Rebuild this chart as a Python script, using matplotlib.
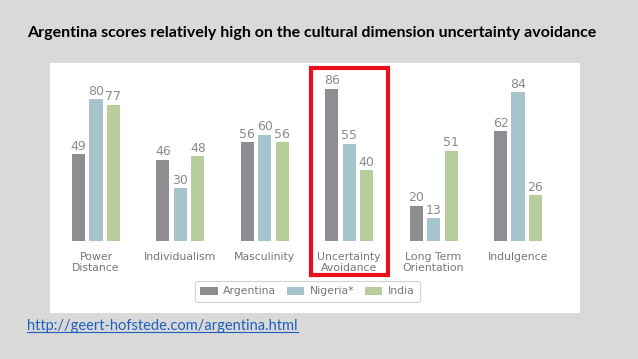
import matplotlib
matplotlib.use("Agg")
import matplotlib.pyplot as plt
from matplotlib.patches import Rectangle, Patch
from matplotlib.lines import Line2D
import numpy as np

# Hofstede scores
dimensions = ["Power\nDistance", "Individualism", "Masculinity",
              "Uncertainty\nAvoidance", "Long Term\nOrientation", "Indulgence"]
argentina = [49, 46, 56, 86, 20, 62]
nigeria = [80, 30, 60, 55, 13, 84]
india = [77, 48, 56, 40, 51, 26]
countries = ["Argentina", "Nigeria*", "India"]
colors = ["#8e8d92", "#a6c4cc", "#b7cd9c"]

fig = plt.figure(figsize=(6.38, 3.59), dpi=100)
fig.patch.set_facecolor("#d9d9d9")

W, H = 638, 359
# white panel with the chart
ax = fig.add_axes([50 / W, 46 / H, 530 / W, 250 / H])
ax.set_facecolor("white")
for s in ax.spines.values():
    s.set_visible(False)
ax.set_xticks([])
ax.set_yticks([])
ax.set_xlim(-0.545, 5.735)
ax.set_ylim(-40.7, 100.6)

x = np.arange(len(dimensions))
off = 0.207
bw = 0.155
for k, (vals, c) in enumerate(zip([argentina, nigeria, india], colors)):
    xs = x + (k - 1) * off
    bars = ax.bar(xs, vals, width=bw, color=c, label=countries[k])
    for xi, v in zip(xs, vals):
        ax.annotate(str(v), (xi, v), xytext=(0, 1), textcoords="offset points",
                    ha="center", va="bottom", fontsize=9, color="#8a8a8a",
                    family="DejaVu Sans")

for xi, lab in zip(x, dimensions):
    ax.text(xi, -6.0, lab, ha="center", va="top", fontsize=7.8,
            color="#777777", linespacing=1.2, family="DejaVu Sans")

# highlight box around uncertainty avoidance
ax.add_patch(Rectangle((3 - 0.455, -19.2), 0.91, 116.9, fill=False,
                       edgecolor="#e8101a", linewidth=3, clip_on=False, zorder=5))

handles = [Patch(facecolor=c, edgecolor="none") for c in colors]
leg = ax.legend(handles, countries, ncol=3, loc="center",
                bbox_to_anchor=(307.5 / W, 1 - 291.5 / H),
                bbox_transform=fig.transFigure, frameon=True, fancybox=True,
                fontsize=7.8, handlelength=1.6, handleheight=0.8,
                columnspacing=1.0, handletextpad=0.5, borderpad=0.5,
                labelcolor="#777777", edgecolor="#c8c8c8")
leg.get_frame().set_linewidth(0.8)

fig.text(27 / W, 1 - 33 / H,
         "Argentina scores relatively high on the cultural dimension uncertainty avoidance",
         ha="left", va="center", fontsize=11.5, fontweight="bold", family="Lato",
         color="black")

url = fig.text(27 / W, 1 - 326 / H, "http://geert-hofstede.com/argentina.html",
               ha="left", va="center", fontsize=10.5, family="Lato",
               color="#1f5fbf")
fig.canvas.draw()
bb = url.get_window_extent().transformed(fig.transFigure.inverted())
fig.add_artist(Line2D([bb.x0, bb.x1], [bb.y0 + 0.004, bb.y0 + 0.004],
                      transform=fig.transFigure, color="#1f5fbf", linewidth=0.8))

fig.savefig("out.png", dpi=100, facecolor=fig.get_facecolor())
